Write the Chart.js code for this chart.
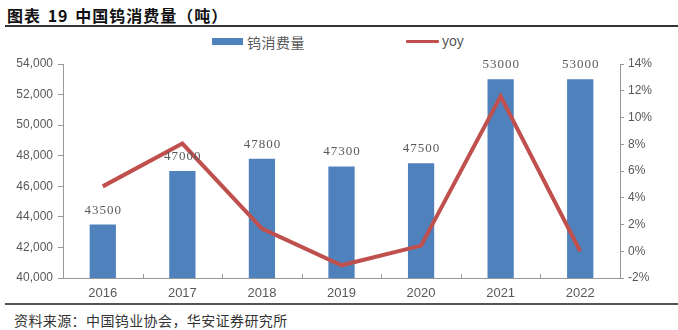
<!DOCTYPE html>
<html>
<head>
<meta charset="utf-8">
<script src="https://cdn.jsdelivr.net/npm/chart.js@4.4.1/dist/chart.umd.min.js"></script>
<style>
  html, body { margin: 0; padding: 0; background: #fff; }
  #wrap { position: relative; width: 678px; height: 330px; overflow: hidden; font-family: "Noto Sans CJK SC", sans-serif; }
  #title { position: absolute; left: 7px; top: 3px; font-size: 16px; font-weight: bold; color: #111; letter-spacing: 1px; word-spacing: 2px; white-space: nowrap; }
  #topline { position: absolute; left: 5px; right: 0; top: 25px; height: 2px; background: #333; }
  #botline { position: absolute; left: 5px; right: 0; top: 303px; height: 2px; background: #555; }
  #source { position: absolute; left: 14px; top: 310px; font-size: 14px; color: #333; letter-spacing: 0.4px; white-space: nowrap; }
  .lg { position: absolute; white-space: nowrap; font-size: 14px; color: #595959; }
  canvas { position: absolute; left: 0; top: 50px; }
</style>
</head>
<body>
<div id="wrap">
  <div id="title">图表 19 中国钨消费量（吨）</div>
  <div id="topline"></div>
  <div style="position:absolute;left:212px;top:38px;width:31px;height:7px;background:#4F81BD"></div>
  <div class="lg" style="left:247px;top:32px;letter-spacing:0.5px">钨消费量</div>
  <div style="position:absolute;left:406px;top:40px;width:33px;height:3px;background:#C0504D;border-radius:1px"></div>
  <div class="lg" style="left:442px;top:33px;font-family:'Liberation Sans',sans-serif;font-size:14px">yoy</div>
  <canvas id="c" width="678" height="250"></canvas>
  <div id="botline"></div>
  <div id="source">资料来源：中国钨业协会，华安证券研究所</div>
</div>
<script>
const categories = ["2016", "2017", "2018", "2019", "2020", "2021", "2022"];
const consumption = [43500, 47000, 47800, 47300, 47500, 53000, 53000];
const yoy = [4.85, 8.05, 1.7, -1.05, 0.42, 11.58, 0.0];
const leftTicks = [40000, 54000, 2000];
const rightTicks = [-2, 14, 2];

const barLabels = {
  id: 'barLabels',
  afterDatasetsDraw(chart) {
    const ctx = chart.ctx;
    const meta = chart.getDatasetMeta(1);
    ctx.save();
    ctx.font = '13px "Liberation Serif", serif';
    ctx.fillStyle = '#595959';
    ctx.textAlign = 'center';
    ctx.textBaseline = 'alphabetic';
    try { ctx.letterSpacing = '1px'; } catch (e) {}
    meta.data.forEach((el, i) => {
      ctx.fillText(String(chart.data.datasets[1].data[i]), el.x + 0.5, el.y - 11);
    });
    ctx.restore();
  }
};

const xInnerTicks = {
  id: 'xInnerTicks',
  afterDraw(chart) {
    const ctx = chart.ctx;
    const xs = chart.scales.x;
    const bottom = chart.chartArea.bottom;
    ctx.save();
    ctx.strokeStyle = '#999';
    ctx.lineWidth = 1;
    for (let i = 0; i < categories.length - 1; i++) {
      const x = Math.round((xs.getPixelForValue(i) + xs.getPixelForValue(i + 1)) / 2) + 0.5;
      ctx.beginPath();
      ctx.moveTo(x, bottom - 4);
      ctx.lineTo(x, bottom);
      ctx.stroke();
    }
    ctx.restore();
  }
};

new Chart(document.getElementById('c'), {
  data: {
    labels: categories,
    datasets: [
      {
        type: 'line',
        label: 'yoy',
        data: yoy,
        yAxisID: 'y1',
        borderColor: '#C0504D',
        backgroundColor: '#C0504D',
        borderWidth: 4,
        pointRadius: 0,
        tension: 0,
        order: 0
      },
      {
        type: 'bar',
        label: '钨消费量',
        data: consumption,
        yAxisID: 'y',
        backgroundColor: '#4F81BD',
        borderWidth: 0,
        categoryPercentage: 1,
        barPercentage: 0.33,
        order: 1
      }
    ]
  },
  options: {
    responsive: false,
    devicePixelRatio: 1,
    animation: false,
    layout: { padding: { top: 14, left: 0, right: 0, bottom: 0 } },
    plugins: { legend: { display: false }, tooltip: { enabled: false } },
    scales: {
      x: {
        offset: true,
        grid: { display: false, drawTicks: false },
        border: { display: true, color: '#999', width: 1 },
        ticks: { color: '#595959', font: { family: '"Liberation Sans", Arial, sans-serif', size: 13 }, padding: 8 },
        afterFit(s) { s.height = 22; }
      },
      y: {
        position: 'left',
        min: leftTicks[0], max: leftTicks[1],
        grid: { drawOnChartArea: false, drawTicks: true, tickLength: 5, color: '#999' },
        border: { display: true, color: '#999', width: 1 },
        ticks: {
          stepSize: leftTicks[2],
          color: '#595959',
          font: { family: '"Liberation Sans", Arial, sans-serif', size: 12 },
          padding: 5,
          callback: v => v.toLocaleString('en-US')
        },
        afterFit(s) { s.width = 63; }
      },
      y1: {
        position: 'right',
        min: rightTicks[0], max: rightTicks[1],
        grid: { drawOnChartArea: false, drawTicks: true, tickLength: 4, color: '#999' },
        border: { display: true, color: '#999', width: 1 },
        ticks: {
          stepSize: rightTicks[2],
          color: '#595959',
          font: { family: '"Liberation Sans", Arial, sans-serif', size: 12 },
          padding: 4,
          callback: v => v + '%'
        },
        afterFit(s) { s.width = 58; }
      }
    }
  },
  plugins: [barLabels, xInnerTicks]
});
</script>
</body>
</html>
